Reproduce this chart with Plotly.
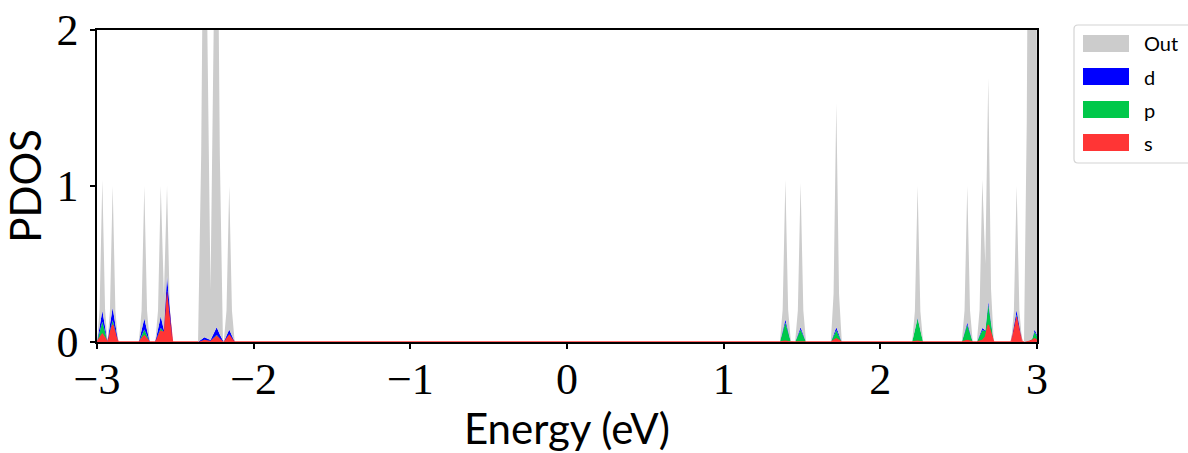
import plotly.graph_objects as go

# Energy grid (eV) of the projected density of states
energy = [
    -3.000, -2.9835, -2.966, -2.9485, -2.933, -2.9175, -2.900, -2.8825, -2.865,
    -2.733, -2.7155, -2.698, -2.6805, -2.663,
    -2.628, -2.6105, -2.593, -2.573, -2.553, -2.5355, -2.518,
    -2.355, -2.335, -2.315, -2.2755, -2.236, -2.216, -2.196,
    -2.191, -2.1735, -2.156, -2.1385, -2.121,
    1.359, 1.3765, 1.394, 1.4115, 1.429,
    1.456, 1.4735, 1.491, 1.5085, 1.526,
    1.684, 1.7015, 1.719, 1.7365, 1.754,
    2.203, 2.2205, 2.238, 2.2555, 2.273,
    2.520, 2.5375, 2.555, 2.5725, 2.590,
    2.616, 2.6335, 2.651, 2.670, 2.689, 2.7065, 2.724,
    2.835, 2.8525, 2.870, 2.8875, 2.905,
    2.917, 2.9345, 2.952, 2.9685, 2.985, 3.0025, 3.020,
]

# Orbital-resolved contributions (stacked: s, p, d, then the remainder "Out")
pdos_s = [
    0, 0.025, 0.05, 0.025, 0, 0.055, 0.11, 0.055, 0,
    0, 0.02, 0.04, 0.02, 0,
    0, 0.035, 0.07, 0.06, 0.32, 0.16, 0,
    0, 0.005, 0.01, 0.005, 0.035, 0.0175, 0,
    0, 0.0225, 0.045, 0.0225, 0,
    0, 0.0025, 0.005, 0.0025, 0,
    0, 0, 0, 0, 0,
    0, 0.01, 0.02, 0.01, 0,
    0, 0.0025, 0.005, 0.0025, 0,
    0, 0.005, 0.01, 0.005, 0,
    0, 0.005, 0.01, 0.03, 0.11, 0.055, 0,
    0, 0.08, 0.16, 0.08, 0,
    0, 0.0025, 0.005, 0.01, 0.02, 0.01, 0,
]
pdos_p = [
    0, 0.04, 0.08, 0.04, 0, 0.015, 0.03, 0.015, 0,
    0, 0.02, 0.04, 0.02, 0,
    0, 0.01, 0.02, 0.005, 0.01, 0.005, 0,
    0, 0.0025, 0.005, 0.003, 0.01, 0.005, 0,
    0, 0.0025, 0.005, 0.0025, 0,
    0, 0.06, 0.12, 0.06, 0,
    0, 0.04, 0.08, 0.04, 0,
    0, 0.0275, 0.055, 0.0275, 0,
    0, 0.0725, 0.145, 0.0725, 0,
    0, 0.05, 0.10, 0.05, 0,
    0, 0.0325, 0.065, 0.04, 0.13, 0.065, 0,
    0, 0.0075, 0.015, 0.0075, 0,
    0, 0.0025, 0.005, 0.01, 0.045, 0.0225, 0,
]
pdos_d = [
    0, 0.035, 0.07, 0.035, 0, 0.04, 0.08, 0.04, 0,
    0, 0.035, 0.07, 0.035, 0,
    0, 0.0375, 0.075, 0.01, 0.095, 0.0475, 0,
    0, 0.0075, 0.015, 0.005, 0.05, 0.025, 0,
    0, 0.015, 0.03, 0.015, 0,
    0, 0.01, 0.02, 0.01, 0,
    0, 0.0075, 0.015, 0.0075, 0,
    0, 0.01, 0.02, 0.01, 0,
    0, 0.0025, 0.005, 0.0025, 0,
    0, 0.0075, 0.015, 0.0075, 0,
    0, 0.0075, 0.015, 0.005, 0.02, 0.01, 0,
    0, 0.015, 0.03, 0.015, 0,
    0, 0, 0, 0, 0.015, 0.0075, 0,
]
pdos_out = [
    0, 0.11, 0.84, 0.11, 0, 0.09, 0.78, 0.09, 0,
    0, 0.125, 0.85, 0.125, 0,
    0, 0.12, 0.835, 0.225, 0.575, 0.01, 0,
    0, 1.185, 3.57, 0.317, 3.505, 1.15, 0,
    0, 0.16, 0.92, 0.16, 0,
    0, 0.135, 0.895, 0.135, 0,
    0, 0.155, 0.925, 0.155, 0,
    0, 0.26, 1.435, 0.26, 0,
    0, 0.12, 0.845, 0.12, 0,
    0, 0.14, 0.875, 0.14, 0,
    0, 0.16, 0.95, 0.425, 1.43, 0.21, 0,
    0, 0.10, 0.795, 0.10, 0,
    0, 1.395, 4.49, 2.98, 4.42, 1.16, 0,
]

x_ticks = [-3, -2, -1, 0, 1, 2, 3]
x_tick_text = ["\u22123", "\u22122", "\u22121", "0", "1", "2", "3"]
y_ticks = [0, 1, 2]
y_tick_text = ["0", "1", "2"]

series = [
    ("s", pdos_s, "#ff3535"),
    ("p", pdos_p, "#00c84a"),
    ("d", pdos_d, "#0000ff"),
    ("Out", pdos_out, "#cccccc"),
]

W, H = 1188, 453
ML, MR, MT, MB = 97, 151, 30, 111
SANS = "Lato, 'DejaVu Sans', sans-serif"
SERIF = "'Liberation Serif', 'DejaVu Serif', serif"


def paper(px, py):
    """Convert page pixels to paper coordinates of the plotting area."""
    return (px - ML) / (W - ML - MR), (H - MB - py) / (H - MT - MB)


fig = go.Figure()
for name, vals, color in series:
    fig.add_trace(go.Scatter(
        x=energy, y=vals, name=name, mode="lines",
        stackgroup="pdos",
        line=dict(width=1.4 if name == "s" else 0, color=color),
        fillcolor=color,
        showlegend=False,
        hoverinfo="x+y+name",
    ))

# Legend box (framed, upper right outside the axes)
shapes = []
annotations = []
x0, y0 = paper(1074, 25)
x1, y1 = paper(1200, 163)
rx, ry = 4 / (W - ML - MR), 4 / (H - MT - MB)
path = (
    f"M{x0 + rx},{y0} L{x1 - rx},{y0} Q{x1},{y0} {x1},{y0 - ry} "
    f"L{x1},{y1 + ry} Q{x1},{y1} {x1 - rx},{y1} "
    f"L{x0 + rx},{y1} Q{x0},{y1} {x0},{y1 + ry} "
    f"L{x0},{y0 - ry} Q{x0},{y0} {x0 + rx},{y0} Z"
)
shapes.append(dict(type="path", xref="paper", yref="paper", path=path,
                   line=dict(color="#d4d4d4", width=1.2), fillcolor="white"))

for i, (name, _, color) in enumerate(reversed(series)):
    top = 35 + 33 * i
    ax0, ay0 = paper(1083, top)
    ax1, ay1 = paper(1129, top + 17)
    shapes.append(dict(type="rect", xref="paper", yref="paper",
                       x0=ax0, x1=ax1, y0=ay1, y1=ay0,
                       line=dict(width=0), fillcolor=color))
    tx, ty = paper(1142, top + 8.5)
    annotations.append(dict(xref="paper", yref="paper", x=tx, y=ty,
                            text=name, showarrow=False,
                            xanchor="left", yanchor="middle",
                            font=dict(family=SANS, size=20, color="black")))

fig.update_layout(
    width=W, height=H,
    margin=dict(l=ML, r=MR, t=MT, b=MB, pad=0, autoexpand=False),
    paper_bgcolor="white", plot_bgcolor="white",
    shapes=shapes, annotations=annotations,
    showlegend=False,
    xaxis=dict(
        range=[-3, 3], tickvals=x_ticks, ticktext=x_tick_text,
        automargin=False,
        showgrid=False, zeroline=False,
        showline=True, linecolor="black", linewidth=1.5, mirror=True,
        ticks="outside", ticklen=5, tickwidth=1.5, tickcolor="black",
        tickfont=dict(family=SERIF, size=44, color="black"),
        ticklabelstandoff=-8,
        title=dict(text="Energy (eV)", standoff=4,
                   font=dict(family=SANS, size=42, color="black")),
        layer="below traces",
    ),
    yaxis=dict(
        range=[0, 2], tickvals=y_ticks, ticktext=y_tick_text,
        automargin=False,
        showgrid=False, zeroline=False,
        showline=True, linecolor="black", linewidth=1.5, mirror=True,
        ticks="outside", ticklen=5, tickwidth=1.5, tickcolor="black",
        tickfont=dict(family=SERIF, size=44, color="black"),
        ticklabelstandoff=3,
        title=dict(text="PDOS", standoff=8,
                   font=dict(family=SANS, size=42, color="black")),
        layer="below traces",
    ),
)

fig.write_html("out.html")
